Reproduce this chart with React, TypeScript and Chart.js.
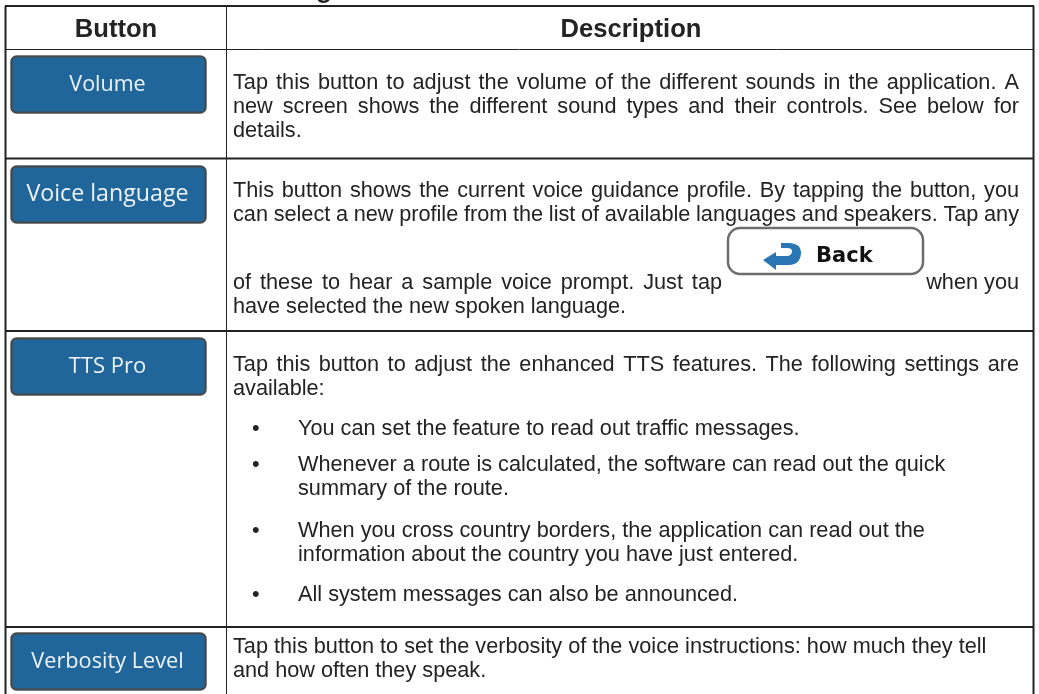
import React, { useEffect, useRef } from "react";
import { Chart, registerables } from "chart.js";

Chart.register(...registerables);

const WIDTH = 1039;
const HEIGHT = 694;

const headers = ["Button", "Description"];
const buttonLabels = ["Volume", "Voice language", "TTS Pro", "Verbosity Level"];
const bodyLines = [
  "Tap this button to adjust the volume of the different sounds in the application. A",
  "new screen shows the different sound types and their controls. See below for",
  "details.",
  "This button shows the current voice guidance profile. By tapping the button, you",
  "can select a new profile from the list of available languages and speakers. Tap any",
  "of these to hear a sample voice prompt. Just tap",
  "have selected the new spoken language.",
  "Tap this button to adjust the enhanced TTS features. The following settings are",
  "available:",
  "You can set the feature to read out traffic messages.",
  "Whenever a route is calculated, the software can read out the quick",
  "summary of the route.",
  "When you cross country borders, the application can read out the",
  "information about the country you have just entered.",
  "All system messages can also be announced.",
  "Tap this button to set the verbosity of the voice instructions: how much they tell",
  "and how often they speak.",
];
const bulletLineIndexes = [9, 10, 12, 14];

// layout of the page (not data)
const lineBaselines = [89, 113, 137, 197, 221, 289, 313, 371, 395, 435, 471, 495, 537, 561, 601, 653, 677];
const lineLeft = [233, 233, 233, 233, 233, 233, 233, 233, 233, 298, 298, 298, 298, 298, 298, 233, 233];
const justifyTo = [1019, 1019, 0, 1019, 1019, 722, 0, 1019, 0, 0, 0, 0, 0, 0, 0, 0, 0];
const TEXT_RIGHT = 1019;
const BULLET_X = 252;
const buttonTops = [56, 166, 338, 633];
const buttonFontSizes = [21.5, 23.2, 22, 21.7];
const BUTTON_LEFT = 11;
const BUTTON_RIGHT = 206;
const BUTTON_H = 57;

const BODY_FONT = '21.7px "Liberation Sans"';
const TEXT = "#232323";

function rr(ctx: CanvasRenderingContext2D, x: number, y: number, w: number, h: number, r: number) {
  ctx.beginPath();
  ctx.roundRect(x, y, w, h, r);
}

const tablePlugin = {
  id: "tablePage",
  beforeDraw(chart: any) {
    const c: CanvasRenderingContext2D = chart.ctx;
    c.save();
    c.fillStyle = "#ffffff";
    c.fillRect(0, 0, WIDTH, HEIGHT);
    c.restore();
  },
  afterDraw(chart: any) {
    const c: CanvasRenderingContext2D = chart.ctx;
    const X = (v: number) => chart.scales.x.getPixelForValue(v);
    const Y = (v: number) => chart.scales.y.getPixelForValue(v);
    c.save();
    c.textBaseline = "alphabetic";

    // clipped descender of the heading above the table
    c.fillStyle = TEXT;
    c.font = 'bold 26px "Liberation Sans"';
    c.textAlign = "center";
    c.fillText("g", X(324), Y(-2));

    // headers
    c.font = 'bold 25.6px "Liberation Sans"';
    c.fillText(headers[0], X(116), Y(37));
    c.fillText(headers[1], X(631), Y(37));

    // buttons
    buttonLabels.forEach((label, i) => {
      const x = X(BUTTON_LEFT);
      const y = Y(buttonTops[i]);
      const w = X(BUTTON_RIGHT) - x;
      const h = BUTTON_H;
      rr(c, x - 0.5, y - 0.5, w + 1, h + 1, 6);
      c.strokeStyle = "#b5b5b5";
      c.lineWidth = 1;
      c.stroke();
      rr(c, x + 0.5, y + 0.5, w - 1, h - 1, 5);
      c.fillStyle = "#20669b";
      c.fill();
      c.strokeStyle = "#45484a";
      c.lineWidth = 2;
      c.stroke();
      c.fillStyle = "#eef3f7";
      c.font = `${buttonFontSizes[i]}px "Open Sans"`;
      c.textAlign = "center";
      c.fillText(label, x + w / 2 - 1, y + h / 2 + 6);
    });

    // body text
    c.textAlign = "left";
    c.font = BODY_FONT;
    c.fillStyle = TEXT;
    bodyLines.forEach((line, i) => {
      const x = X(lineLeft[i]);
      const y = Y(lineBaselines[i]);
      (c as any).wordSpacing = "0px";
      if (justifyTo[i]) {
        const w = c.measureText(line).width;
        const spaces = line.split(" ").length - 1;
        (c as any).wordSpacing = `${(X(justifyTo[i]) - x - w) / spaces}px`;
      }
      c.fillText(line, x, y);
      (c as any).wordSpacing = "0px";
    });
    bulletLineIndexes.forEach((i) => {
      c.fillText("\u2022", X(BULLET_X), Y(lineBaselines[i]));
    });

    // inline sentence end beside the Back image
    c.textAlign = "right";
    c.fillText("when you", X(TEXT_RIGHT), Y(lineBaselines[5]));
    c.textAlign = "left";

    // inline Back button
    const bx = X(728);
    const by = Y(228);
    rr(c, bx, by, 195, 46, 12);
    c.fillStyle = "#ffffff";
    c.fill();
    c.strokeStyle = "#6d6d6d";
    c.lineWidth = 2.5;
    c.stroke();
    c.fillStyle = "#2a76b4";
    c.beginPath();
    c.moveTo(X(763), Y(260));
    c.lineTo(X(776), Y(252));
    c.lineTo(X(776), Y(256));
    c.lineTo(X(788), Y(256));
    c.quadraticCurveTo(X(792), Y(255), X(792), Y(251));
    c.quadraticCurveTo(X(792), Y(248), X(787), Y(248));
    c.lineTo(X(781), Y(248));
    c.lineTo(X(781), Y(243));
    c.lineTo(X(790), Y(243));
    c.quadraticCurveTo(X(801), Y(244), X(801), Y(252));
    c.quadraticCurveTo(X(801), Y(264), X(790), Y(265));
    c.lineTo(X(776), Y(265));
    c.lineTo(X(776), Y(270));
    c.closePath();
    c.fill();
    c.fillStyle = "#111111";
    c.font = 'bold 21px "DejaVu Sans"';
    c.fillText("Back", X(816), Y(262));

    c.restore();
  },
};

// table rules: [x1, y1, x2, y2, thickness]
const rules: number[][] = [
  [5.5, 6, 5.5, 694, 2],
  [1033.5, 6, 1033.5, 694, 2],
  [5, 6, 1034, 6, 2],
  [5, 49.5, 1034, 49.5, 1],
  [5, 158.5, 1034, 158.5, 2],
  [5, 331, 1034, 331, 2],
  [5, 627, 1034, 627, 2],
  [226.5, 6, 226.5, 694, 1],
];

export default function App() {
  const ref = useRef<HTMLCanvasElement>(null);
  useEffect(() => {
    document.body.style.margin = "0";
    const chart = new Chart(ref.current!, {
      type: "line",
      data: {
        datasets: rules.map((r) => ({
          data: [
            { x: r[0], y: r[1] },
            { x: r[2], y: r[3] },
          ],
          borderColor: "#222222",
          borderWidth: r[4],
          pointRadius: 0,
          clip: false,
        })),
      },
      options: {
        responsive: false,
        animation: false,
        layout: { padding: 0 },
        plugins: { legend: { display: false }, tooltip: { enabled: false }, title: { display: false } },
        scales: {
          x: { type: "linear", display: false, min: 0, max: WIDTH },
          y: { type: "linear", display: false, min: 0, max: HEIGHT, reverse: true },
        },
      },
      plugins: [tablePlugin],
    } as any);
    return () => chart.destroy();
  }, []);
  return (
    <div style={{ position: "absolute", left: 0, top: 0, width: WIDTH, height: HEIGHT, overflow: "hidden" }}>
      <canvas ref={ref} width={WIDTH} height={HEIGHT} style={{ display: "block", filter: "blur(0.35px)" }} />
    </div>
  );
}
